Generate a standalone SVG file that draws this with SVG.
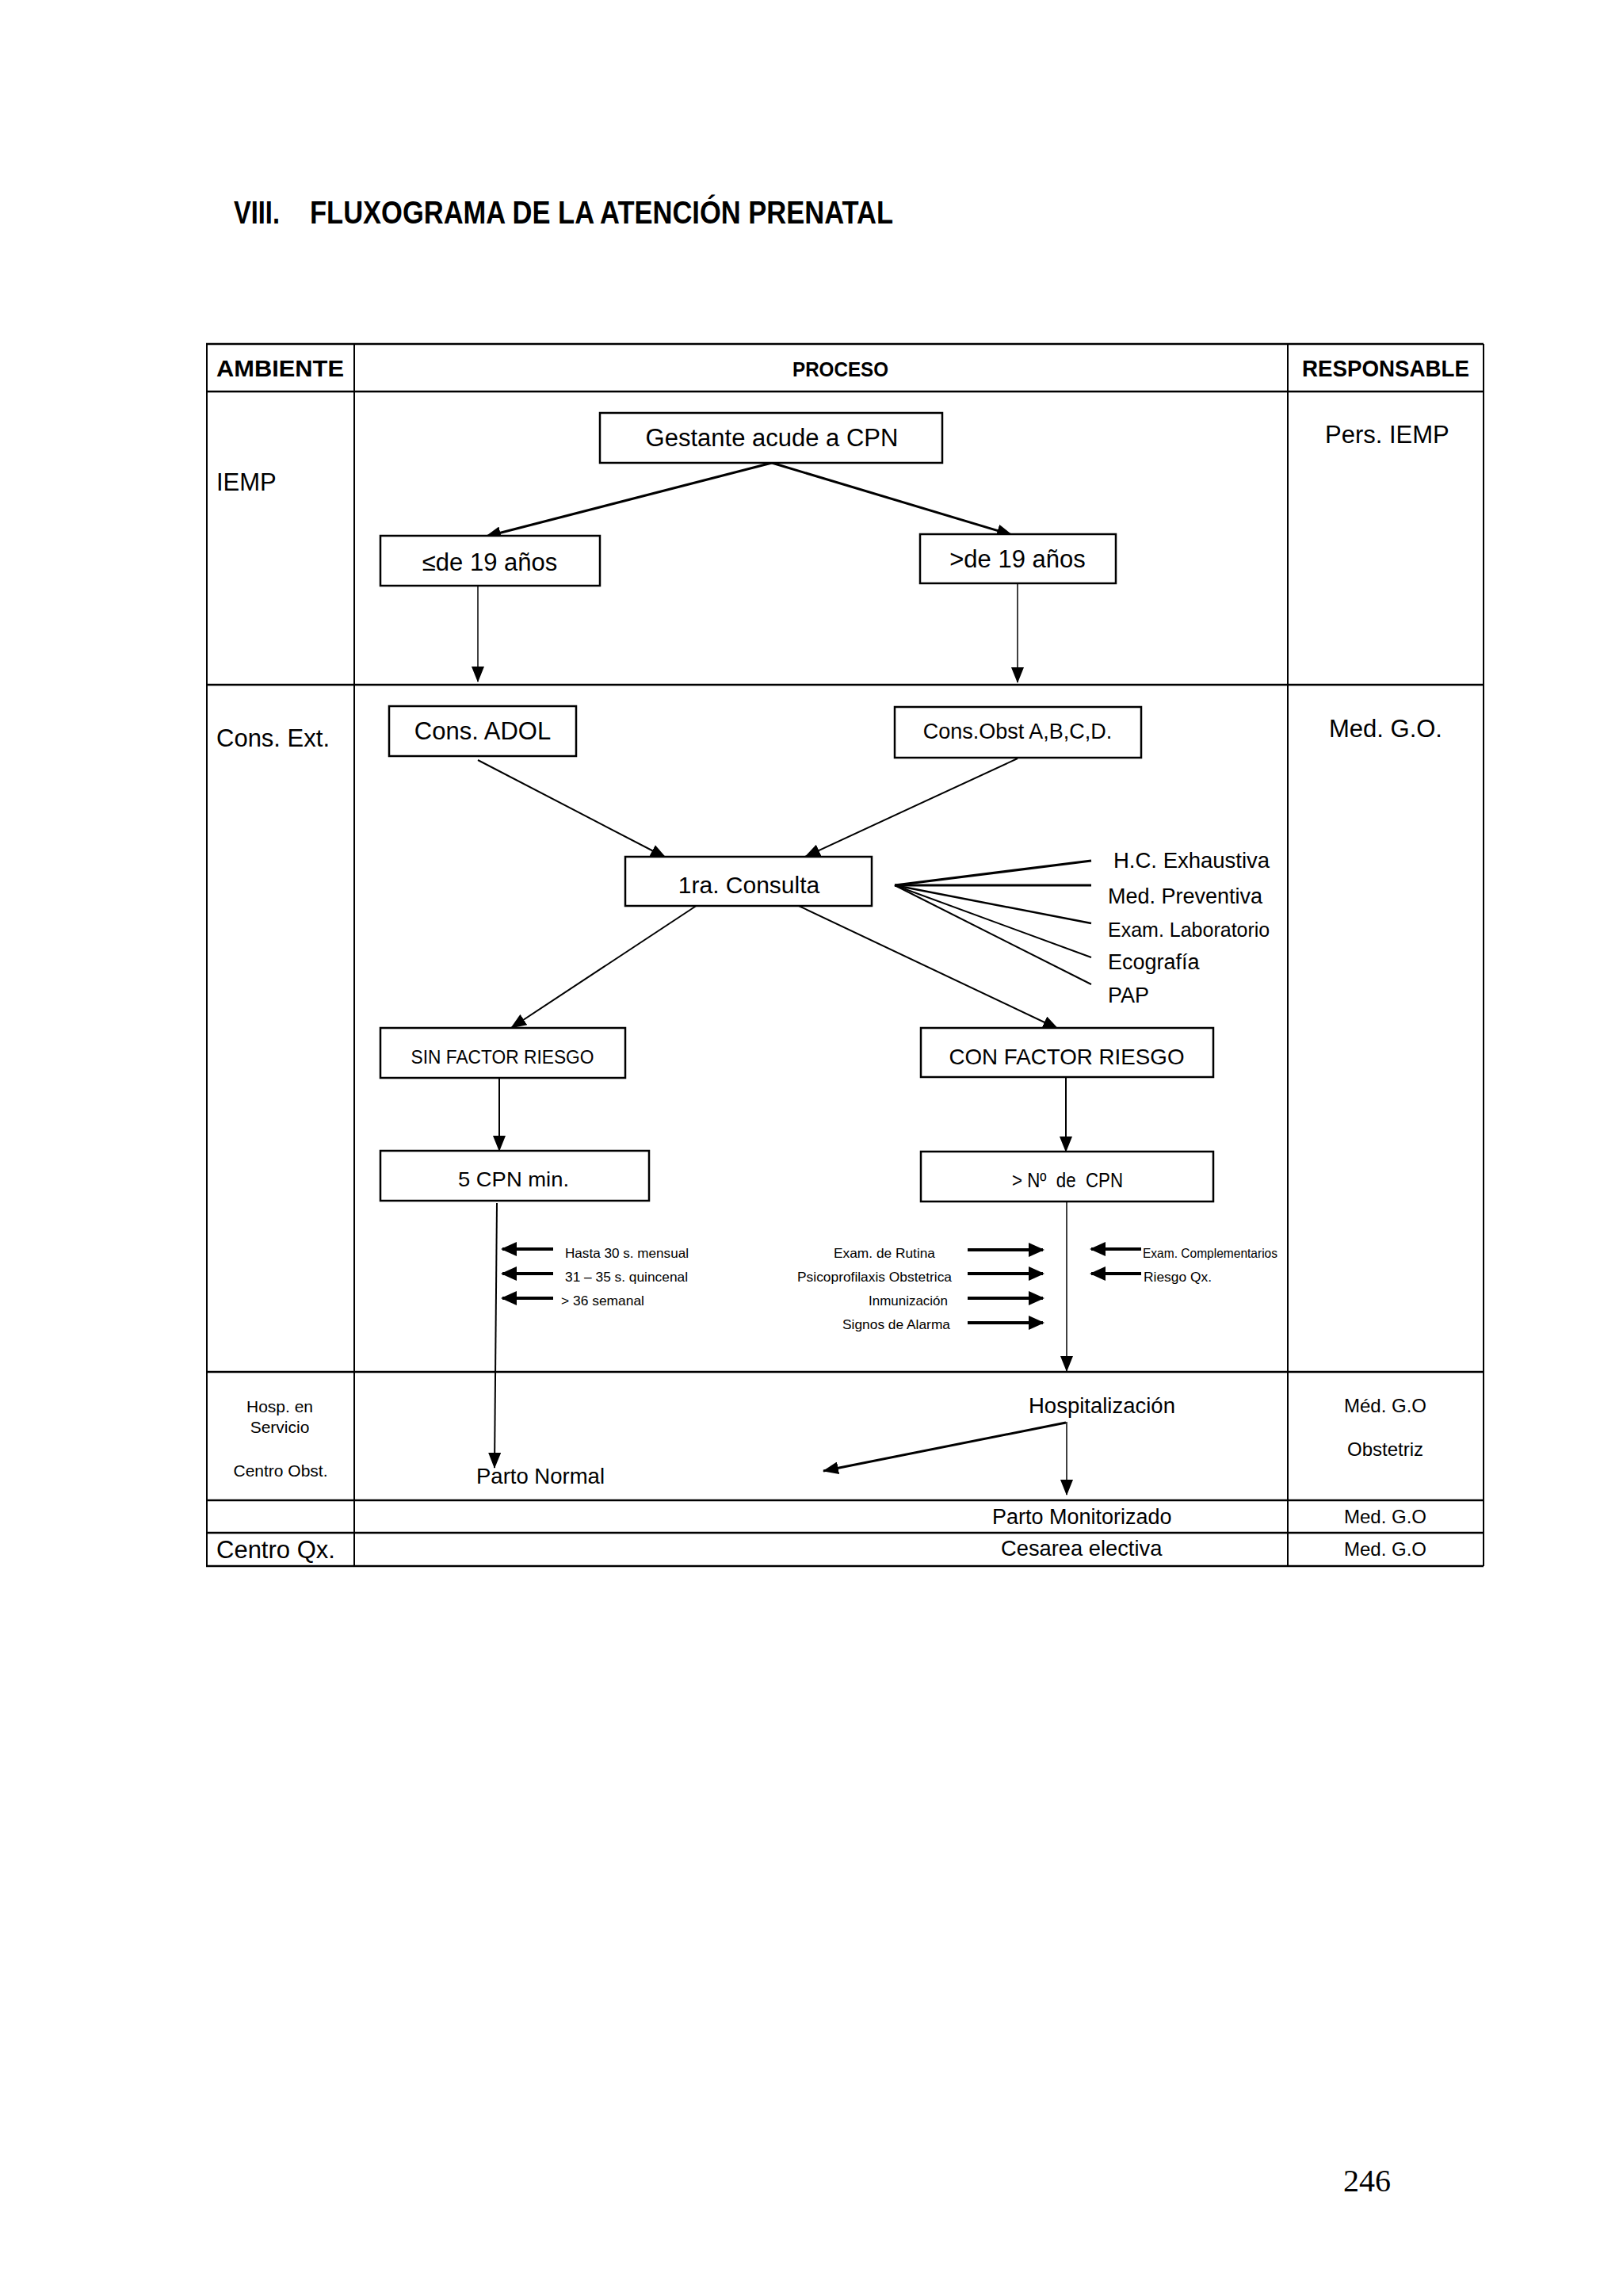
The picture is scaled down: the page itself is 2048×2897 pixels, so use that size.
<svg xmlns="http://www.w3.org/2000/svg" width="2048" height="2897" viewBox="0 0 2048 2897">
<style>
text{font-family:"Liberation Sans",Arial,sans-serif;fill:#000}
text.serif{font-family:"Liberation Serif","Times New Roman",serif}
.b{font-weight:bold}
.c{text-anchor:middle}
.box{fill:#fff;stroke:#000;stroke-width:2.5}
.tl{stroke:#000;stroke-width:2.5;fill:none}
.tv{stroke:#000;stroke-width:2;fill:none}
.cn{stroke:#000;fill:none}
.sm{font-size:16.5px}
</style>
<defs>
<marker id="ah" markerUnits="userSpaceOnUse" markerWidth="22" markerHeight="16" refX="19" refY="8" orient="auto"><path d="M0,0 L20,8 L0,16 z" fill="#000"/></marker>
<marker id="ah2" markerUnits="userSpaceOnUse" markerWidth="22" markerHeight="20" refX="18" refY="9" orient="auto"><path d="M0,0 L20,9 L0,18 z" fill="#000"/></marker>
</defs>
<rect width="2048" height="2897" fill="#fff"/>
<g id="title">
<text class="b" x="295" y="282" font-size="41" textLength="58" lengthAdjust="spacingAndGlyphs">VIII.</text>
<text class="b" x="391" y="282" font-size="41" textLength="736" lengthAdjust="spacingAndGlyphs">FLUXOGRAMA DE LA ATENCIÓN PRENATAL</text>
</g>
<g id="table">
<line class="tl" x1="260" y1="434" x2="1872" y2="434"/>
<line class="tl" x1="260" y1="494" x2="1872" y2="494"/>
<line class="tl" x1="260" y1="864" x2="1872" y2="864"/>
<line class="tl" x1="260" y1="1731" x2="1872" y2="1731"/>
<line class="tl" x1="260" y1="1893" x2="1872" y2="1893"/>
<line class="tl" x1="260" y1="1934" x2="1872" y2="1934"/>
<line class="tl" x1="260" y1="1976" x2="1872" y2="1976"/>
<line class="tv" x1="261" y1="434" x2="261" y2="1976"/>
<line class="tv" x1="447" y1="434" x2="447" y2="1976"/>
<line class="tv" x1="1625" y1="434" x2="1625" y2="1976"/>
<line class="tv" x1="1872" y1="434" x2="1872" y2="1976"/>
<text class="b" x="273" y="475" font-size="30" textLength="161" lengthAdjust="spacingAndGlyphs">AMBIENTE</text>
<text class="b" x="1000" y="475" font-size="26" textLength="121" lengthAdjust="spacingAndGlyphs">PROCESO</text>
<text class="b" x="1643" y="475" font-size="30" textLength="211" lengthAdjust="spacingAndGlyphs">RESPONSABLE</text>
<text x="273" y="619" font-size="31">IEMP</text>
<text x="273" y="942" font-size="31">Cons. Ext.</text>
<text class="c" x="353" y="1782" font-size="21">Hosp. en</text>
<text class="c" x="353" y="1808" font-size="21">Servicio</text>
<text class="c" x="354" y="1863" font-size="21">Centro Obst.</text>
<text x="273" y="1966" font-size="31">Centro Qx.</text>
<text x="1672" y="559" font-size="31">Pers. IEMP</text>
<text x="1677" y="930" font-size="31">Med. G.O.</text>
<text class="c" x="1748" y="1782" font-size="24">Méd. G.O</text>
<text class="c" x="1748" y="1837" font-size="24">Obstetriz</text>
<text class="c" x="1748" y="1922" font-size="24">Med. G.O</text>
<text class="c" x="1748" y="1963" font-size="24">Med. G.O</text>
</g>
<g id="connectors">
<line class="cn" stroke-width="3" x1="974" y1="584" x2="613" y2="677" marker-end="url(#ah)"/>
<line class="cn" stroke-width="3" x1="974" y1="584" x2="1277" y2="675" marker-end="url(#ah)"/>
<line class="cn" stroke-width="1.5" x1="603" y1="740" x2="603" y2="860" marker-end="url(#ah)"/>
<line class="cn" stroke-width="1.5" x1="1284" y1="737" x2="1284" y2="861" marker-end="url(#ah)"/>
<line class="cn" stroke-width="2" x1="603" y1="959" x2="840" y2="1082" marker-end="url(#ah)"/>
<line class="cn" stroke-width="2" x1="1284" y1="957" x2="1016" y2="1081" marker-end="url(#ah)"/>
<line class="cn" stroke-width="3" x1="1129" y1="1117" x2="1377" y2="1086"/>
<line class="cn" stroke-width="3" x1="1129" y1="1117" x2="1377" y2="1117"/>
<line class="cn" stroke-width="2.5" x1="1129" y1="1117" x2="1377" y2="1165"/>
<line class="cn" stroke-width="2" x1="1129" y1="1117" x2="1377" y2="1208"/>
<line class="cn" stroke-width="2" x1="1129" y1="1117" x2="1377" y2="1242"/>
<line class="cn" stroke-width="2" x1="880" y1="1142" x2="645" y2="1297" marker-end="url(#ah)"/>
<line class="cn" stroke-width="2" x1="1008" y1="1143" x2="1335" y2="1298" marker-end="url(#ah)"/>
<line class="cn" stroke-width="2" x1="630" y1="1360" x2="630" y2="1452" marker-end="url(#ah)"/>
<line class="cn" stroke-width="2" x1="1345" y1="1359" x2="1345" y2="1453" marker-end="url(#ah)"/>
<line class="cn" stroke-width="2" x1="627" y1="1518" x2="624" y2="1852" marker-end="url(#ah)"/>
<line class="cn" stroke-width="1.5" x1="1346" y1="1516" x2="1346" y2="1730" marker-end="url(#ah)"/>
<line class="cn" stroke-width="3" x1="1345" y1="1795" x2="1039" y2="1856" marker-end="url(#ah)"/>
<line class="cn" stroke-width="1.5" x1="1346" y1="1794" x2="1346" y2="1886" marker-end="url(#ah)"/>
<line class="cn" stroke-width="4" x1="698" y1="1576" x2="634" y2="1576" marker-end="url(#ah2)"/>
<line class="cn" stroke-width="4" x1="698" y1="1607" x2="634" y2="1607" marker-end="url(#ah2)"/>
<line class="cn" stroke-width="4" x1="698" y1="1638" x2="634" y2="1638" marker-end="url(#ah2)"/>
<line class="cn" stroke-width="4" x1="1221" y1="1577" x2="1316" y2="1577" marker-end="url(#ah2)"/>
<line class="cn" stroke-width="4" x1="1221" y1="1607" x2="1316" y2="1607" marker-end="url(#ah2)"/>
<line class="cn" stroke-width="4" x1="1221" y1="1638" x2="1316" y2="1638" marker-end="url(#ah2)"/>
<line class="cn" stroke-width="4" x1="1221" y1="1669" x2="1316" y2="1669" marker-end="url(#ah2)"/>
<line class="cn" stroke-width="4" x1="1440" y1="1576" x2="1377" y2="1576" marker-end="url(#ah2)"/>
<line class="cn" stroke-width="4" x1="1440" y1="1607" x2="1377" y2="1607" marker-end="url(#ah2)"/>
</g>
<g id="n-gestante"><rect class="box" x="757" y="521" width="432" height="63"/><text class="c" x="974" y="563" font-size="31">Gestante acude a CPN</text></g>
<g id="n-menor19"><rect class="box" x="480" y="676" width="277" height="63"/><text class="c" x="618" y="720" font-size="31">≤de 19 años</text></g>
<g id="n-mayor19"><rect class="box" x="1161" y="674" width="247" height="62"/><text class="c" x="1284" y="716" font-size="31">&gt;de 19 años</text></g>
<g id="n-adol"><rect class="box" x="491" y="891" width="236" height="63"/><text class="c" x="609" y="933" font-size="31">Cons. ADOL</text></g>
<g id="n-obst"><rect class="box" x="1129" y="892" width="311" height="64"/><text class="c" x="1284" y="932" font-size="27">Cons.Obst A,B,C,D.</text></g>
<g id="n-consulta"><rect class="box" x="789" y="1081" width="311" height="62"/><text class="c" x="945" y="1127" font-size="30">1ra. Consulta</text></g>
<g id="n-items">
<text x="1405" y="1095" font-size="27.5">H.C. Exhaustiva</text>
<text x="1398" y="1140" font-size="27">Med. Preventiva</text>
<text x="1398" y="1182" font-size="25">Exam. Laboratorio</text>
<text x="1398" y="1223" font-size="27">Ecografía</text>
<text x="1398" y="1265" font-size="27">PAP</text>
</g>
<g id="n-sin"><rect class="box" x="480" y="1297" width="309" height="63"/><text class="c" x="634" y="1342" font-size="23" textLength="231" lengthAdjust="spacingAndGlyphs">SIN FACTOR RIESGO</text></g>
<g id="n-con"><rect class="box" x="1162" y="1297" width="369" height="62"/><text class="c" x="1346" y="1343" font-size="28" textLength="297" lengthAdjust="spacingAndGlyphs">CON FACTOR RIESGO</text></g>
<g id="n-5cpn"><rect class="box" x="480" y="1452" width="339" height="63"/><text class="c" x="648" y="1497" font-size="26" textLength="140" lengthAdjust="spacingAndGlyphs">5 CPN min.</text></g>
<g id="n-ncpn"><rect class="box" x="1162" y="1453" width="369" height="63"/><text class="c" x="1347" y="1498" font-size="26" textLength="140" lengthAdjust="spacingAndGlyphs" xml:space="preserve">&gt; Nº  de  CPN</text></g>
<g id="n-labels">
<text class="sm" x="713" y="1587" textLength="156" lengthAdjust="spacingAndGlyphs">Hasta 30 s. mensual</text>
<text class="sm" x="713" y="1617" textLength="155" lengthAdjust="spacingAndGlyphs">31 – 35 s. quincenal</text>
<text class="sm" x="708" y="1647" textLength="105" lengthAdjust="spacingAndGlyphs">&gt; 36 semanal</text>
<text class="sm" x="1052" y="1587" textLength="128" lengthAdjust="spacingAndGlyphs">Exam. de Rutina</text>
<text class="sm" x="1006" y="1617" textLength="195" lengthAdjust="spacingAndGlyphs">Psicoprofilaxis Obstetrica</text>
<text class="sm" x="1096" y="1647" textLength="100" lengthAdjust="spacingAndGlyphs">Inmunización</text>
<text class="sm" x="1063" y="1677" textLength="136" lengthAdjust="spacingAndGlyphs">Signos de Alarma</text>
<text class="sm" x="1442" y="1587" textLength="170" lengthAdjust="spacingAndGlyphs">Exam. Complementarios</text>
<text class="sm" x="1443" y="1617" textLength="86" lengthAdjust="spacingAndGlyphs">Riesgo Qx.</text>
</g>
<g id="n-hosp"><text x="1298" y="1783" font-size="27.5">Hospitalización</text></g>
<g id="n-partonormal"><text x="601" y="1872" font-size="27.5">Parto Normal</text></g>
<g id="n-partomon"><text x="1252" y="1923" font-size="27">Parto Monitorizado</text></g>
<g id="n-cesarea"><text x="1263" y="1963" font-size="27.3">Cesarea electiva</text></g>
<text class="serif" x="1695" y="2765" font-size="40">246</text>
</svg>
